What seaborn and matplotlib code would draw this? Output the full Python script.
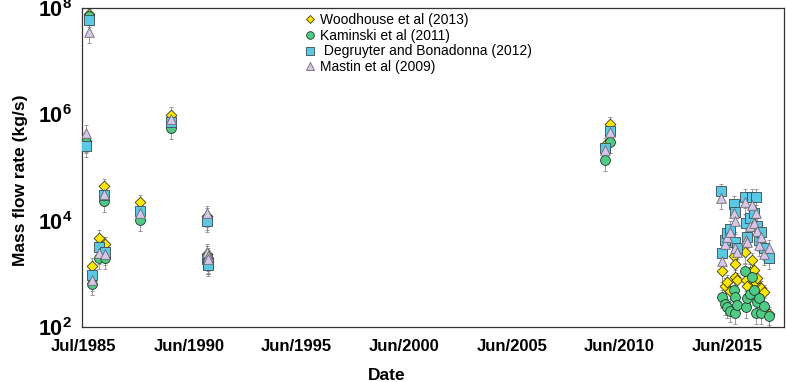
import numpy as np
import pandas as pd
import matplotlib
matplotlib.use("Agg")
import matplotlib.pyplot as plt
import matplotlib.dates as mdates
import matplotlib.ticker as mticker
from matplotlib import font_manager
from matplotlib.lines import Line2D
import seaborn as sns

# eruption dates and mass flow rates (kg/s) for the four plume models
dates = [
    "1985-08-17", "1985-10-16", "1985-12-02", "1986-03-26", "1986-06-20", "1986-07-05",
    "1988-03-03", "1989-08-07", "1991-04-08", "1991-04-12", "1991-04-16", "1991-04-20",
    "2009-10-08", "2010-01-01",
    "2015-03-01", "2015-03-05", "2015-05-08", "2015-06-10", "2015-07-20", "2015-10-08",
    "2015-10-15", "2015-10-22", "2015-11-28", "2016-04-12", "2016-04-20", "2016-05-15",
    "2016-06-20", "2016-08-08", "2016-09-12", "2016-10-16", "2016-11-01", "2016-12-05",
    "2017-01-08", "2017-02-15", "2017-05-22",
]
woodhouse = [
    3.2e5, 7.8e7, 1.43e3, 4.8e3, 4.4e4, 3.6e3,
    2.2e4, 9.8e5, 1.25e4, 2.4e3, 2.0e3, 1.7e3,
    2.6e5, 6.5e5,
    np.nan, 1.13e3, 595, 700, 480, 2.2e3,
    1.5e3, 870, 765, 2.6e3, 765, 600,
    1.1e3, 1.8e3, 1.2e3, 675, 850, 540,
    540, 450, 175,
]
kaminski = [
    3.0e5, 7.0e7, 650, 2.0e3, 2.3e4, 2.0e3,
    1.05e4, 5.5e5, 1.1e4, 2.1e3, 1.8e3, 1.6e3,
    1.4e5, 3.0e5,
    np.nan, 365, 270, 240, 200, 500,
    365, 183, 260, 1.13e3, 240, 350,
    420, 870, 500, 183, 300, 350,
    183, 250, 160,
]
degruyter = [
    2.5e5, 6.0e7, 960, 3.2e3, 3.0e4, 2.6e3,
    1.5e4, 7.3e5, 9.7e3, 1.9e3, 1.6e3, 1.45e3,
    2.3e5, 4.8e5,
    3.6e4, 2.5e3, 4.4e3, 5.9e3, 7.0e3, 2.1e4,
    1.45e4, 4.0e3, 3.1e3, 2.8e4, 9.1e3, 5.0e3,
    1.1e4, 2.8e4, 1.4e4, 2.8e4, 8.0e3, 4.4e3,
    6.0e3, 3.0e3, 2.0e3,
]
mastin = [
    4.5e5, 3.5e7, 780, 2.5e3, 3.2e4, 2.4e3,
    1.4e4, 8.2e5, 1.38e4, 2.6e3, 2.2e3, 1.9e3,
    2.1e5, 4.6e5,
    2.7e4, 1.75e3, 3.6e3, 5.0e3, 6.0e3, 1.4e4,
    9.8e3, 3.1e3, 2.6e3, 2.2e4, 4.4e3, 4.0e3,
    8.0e3, 2.0e4, 9.0e3, 1.4e4, 6.5e3, 3.5e3,
    5.0e3, 2.4e3, 3.1e3,
]
models = ["Woodhouse et al (2013)", "Kaminski et al (2011)",
          " Degruyter and Bonadonna (2012)", "Mastin et al (2009)"]
tick_dates = ["1985-07-01", "1990-06-01", "1995-06-01", "2000-06-01",
              "2005-06-01", "2010-06-01", "2015-06-01"]
tick_labels = ["Jul/1985", "Jun/1990", "Jun/1995", "Jun/2000",
               "Jun/2005", "Jun/2010", "Jun/2015"]

series = [woodhouse, kaminski, degruyter, mastin]
colors = ["#FFE600", "#4FCB86", "#5BC8E6", "#D7C6EA"]
edges = ["#3a3a1a", "#1f3a28", "#3a4a52", "#6a6a6a"]
markers = ["D", "o", "s", "^"]
sizes = [30, 50, 46, 48]

df = pd.concat(
    [pd.DataFrame({"date": pd.to_datetime(dates), "rate": vals, "model": m})
     for m, vals in zip(models, series)],
    ignore_index=True,
).dropna()

names = {f.name for f in font_manager.fontManager.ttflist}
bold_font = "Liberation Sans Narrow" if "Liberation Sans Narrow" in names else "Liberation Sans"

sns.set_style("white")
plt.rcParams["font.family"] = ["Liberation Sans", "DejaVu Sans"]
plt.rcParams["text.color"] = "black"
plt.rcParams["axes.labelcolor"] = "black"
plt.rcParams["xtick.color"] = "black"
plt.rcParams["ytick.color"] = "black"
plt.rcParams["mathtext.fontset"] = "custom"
plt.rcParams["mathtext.bf"] = bold_font + ":bold"
plt.rcParams["mathtext.rm"] = bold_font + ":bold"

fig = plt.figure(figsize=(7.86, 3.82), dpi=100)
ax = fig.add_axes([0.104, 0.144, 0.893, 0.835])

for m, c, e, mk, s in zip(models, colors, edges, markers, sizes):
    sub = df[df["model"] == m]
    ax.errorbar(sub["date"], sub["rate"], yerr=0.38 * sub["rate"], fmt="none",
                ecolor="#8a8a8a", elinewidth=0.6, capsize=1.3, capthick=0.6, zorder=1)
for m, c, e, mk, s in zip(models, colors, edges, markers, sizes):
    sub = df[df["model"] == m]
    sns.scatterplot(data=sub, x="date", y="rate", color=c, marker=mk, s=s,
                    edgecolor=e, linewidth=0.6, ax=ax, legend=False, zorder=3)

ax.set_yscale("log")
ax.set_ylim(1e2, 1e8)
ax.yaxis.set_major_locator(mticker.FixedLocator([1e2, 1e4, 1e6, 1e8]))
ax.yaxis.set_major_formatter(mticker.FuncFormatter(
    lambda v, p: r"$\mathbf{10^{%d}}$" % round(np.log10(v))))
ax.yaxis.set_minor_locator(mticker.LogLocator(base=10, subs=np.arange(1, 10), numticks=100))
ax.yaxis.set_minor_formatter(mticker.NullFormatter())

ax.set_xlim(pd.Timestamp("1985-06-10"), pd.Timestamp("2018-01-20"))
ax.set_xticks(pd.to_datetime(tick_dates))
ax.set_xticklabels(tick_labels)
ax.xaxis.set_minor_locator(mdates.MonthLocator(bymonth=[2, 4, 6, 8, 10, 12]))

ax.tick_params(axis="both", which="major", direction="inout", length=8, width=0.8,
               color="#333333", pad=5)
ax.tick_params(axis="x", which="major", labelsize=12)
ax.tick_params(axis="y", which="major", labelsize=15.5, pad=3)
ax.tick_params(axis="both", which="minor", direction="in", length=3, width=0.6,
               color="#333333")
for lab in ax.get_xticklabels():
    lab.set_fontfamily(bold_font)
    lab.set_fontweight("bold")

for sp in ax.spines.values():
    sp.set_color("#333333")
    sp.set_linewidth(0.9)

ax.set_xlabel("Date", fontsize=12.5, fontweight="bold", family=bold_font)
ax.set_ylabel("Mass flow rate (kg/s)", fontsize=12.5, fontweight="bold", family=bold_font)
ax.xaxis.set_label_coords(0.434, -0.128)
ax.yaxis.set_label_coords(-0.077, 0.46)

handles = [Line2D([], [], linestyle="none", marker=mk, markersize=ms, markerfacecolor=c,
                  markeredgecolor=e, markeredgewidth=0.6)
           for c, e, mk, ms in zip(colors, edges, markers, [4.5, 5.5, 6, 6])]
ax.legend(handles, models, loc="upper left", bbox_to_anchor=(0.306, 1.01), frameon=False,
          fontsize=10, handlelength=0.8, handletextpad=0.3, labelspacing=0.12,
          borderaxespad=0.2)

fig.savefig("out.png", dpi=100)
